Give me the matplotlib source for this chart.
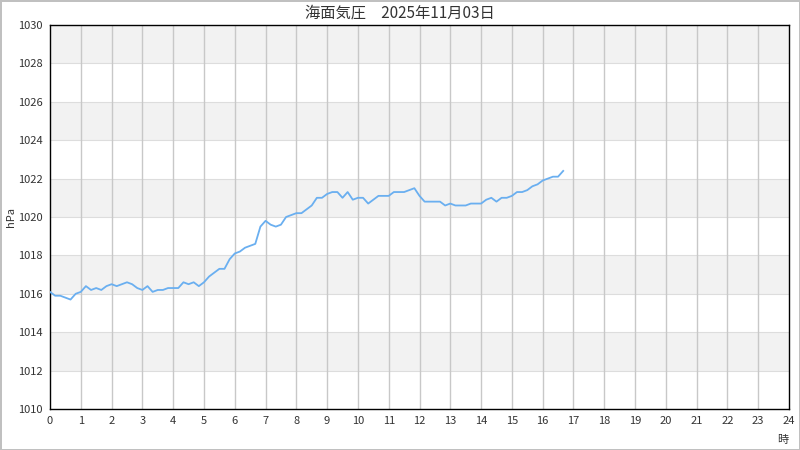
import numpy as np
import matplotlib
matplotlib.use("Agg")
from matplotlib import pyplot as plt

plt.rcParams['font.family'] = ['Noto Sans CJK JP', 'DejaVu Sans']

# sea level pressure, every 10 minutes from 0:00
pressure = [
	1016.1, 1015.9, 1015.9, 1015.8, 1015.7, 1016.0,
	1016.1, 1016.4, 1016.2, 1016.3, 1016.2, 1016.4,
	1016.5, 1016.4, 1016.5, 1016.6, 1016.5, 1016.3,
	1016.2, 1016.4, 1016.1, 1016.2, 1016.2, 1016.3,
	1016.3, 1016.3, 1016.6, 1016.5, 1016.6, 1016.4,
	1016.6, 1016.9, 1017.1, 1017.3, 1017.3, 1017.8,
	1018.1, 1018.2, 1018.4, 1018.5, 1018.6, 1019.5,
	1019.8, 1019.6, 1019.5, 1019.6, 1020.0, 1020.1,
	1020.2, 1020.2, 1020.4, 1020.6, 1021.0, 1021.0,
	1021.2, 1021.3, 1021.3, 1021.0, 1021.3, 1020.9,
	1021.0, 1021.0, 1020.7, 1020.9, 1021.1, 1021.1,
	1021.1, 1021.3, 1021.3, 1021.3, 1021.4, 1021.5,
	1021.1, 1020.8, 1020.8, 1020.8, 1020.8, 1020.6,
	1020.7, 1020.6, 1020.6, 1020.6, 1020.7, 1020.7,
	1020.7, 1020.9, 1021.0, 1020.8, 1021.0, 1021.0,
	1021.1, 1021.3, 1021.3, 1021.4, 1021.6, 1021.7,
	1021.9, 1022.0, 1022.1, 1022.1, 1022.4,
]
hours = np.arange(len(pressure)) / 6.0

x_ticks = list(range(0, 25))
y_ticks = list(range(1010, 1031, 2))
title = '海面気圧　2025年11月03日'

fig = plt.figure(figsize=(8, 4.5), dpi=100)
fig.patch.set_edgecolor('#c0c0c0')
fig.patch.set_linewidth(1)
ax = fig.add_axes([50/800, 1 - 409/450, 739/800, 384/450])

# alternating bands
for k, lo in enumerate(y_ticks[:-1]):
	if k % 2 == 1:
		ax.axhspan(lo, lo + 2, color='#f2f2f2', zorder=0, lw=0)
for y in y_ticks[1:-1]:
	ax.axhline(y, color='#dddddd', lw=0.8, zorder=1)
for x in x_ticks[1:-1]:
	ax.axvline(x, color='#c8c8c8', lw=1, zorder=1)

ax.plot(hours, pressure, color='#6aaff0', lw=1.3, zorder=3)

ax.set_xlim(0, 24)
ax.set_ylim(1010, 1030)
ax.set_xticks(x_ticks)
ax.set_yticks(y_ticks)
ax.tick_params(length=0, labelsize=8, colors='#333333', pad=5)
for s in ax.spines.values():
	s.set_color('black')
	s.set_linewidth(1)

ax.set_ylabel('hPa', fontsize=8, color='#333333', labelpad=2)
fig.text(783/800, 1 - 440/450, '時', fontsize=8, color='#333333', ha='center', va='center')
fig.text(0.5, 1 - 13/450, title, fontsize=11, color='#333333', ha='center', va='center')

fig.savefig('out.png', dpi=100, edgecolor=fig.get_edgecolor())
